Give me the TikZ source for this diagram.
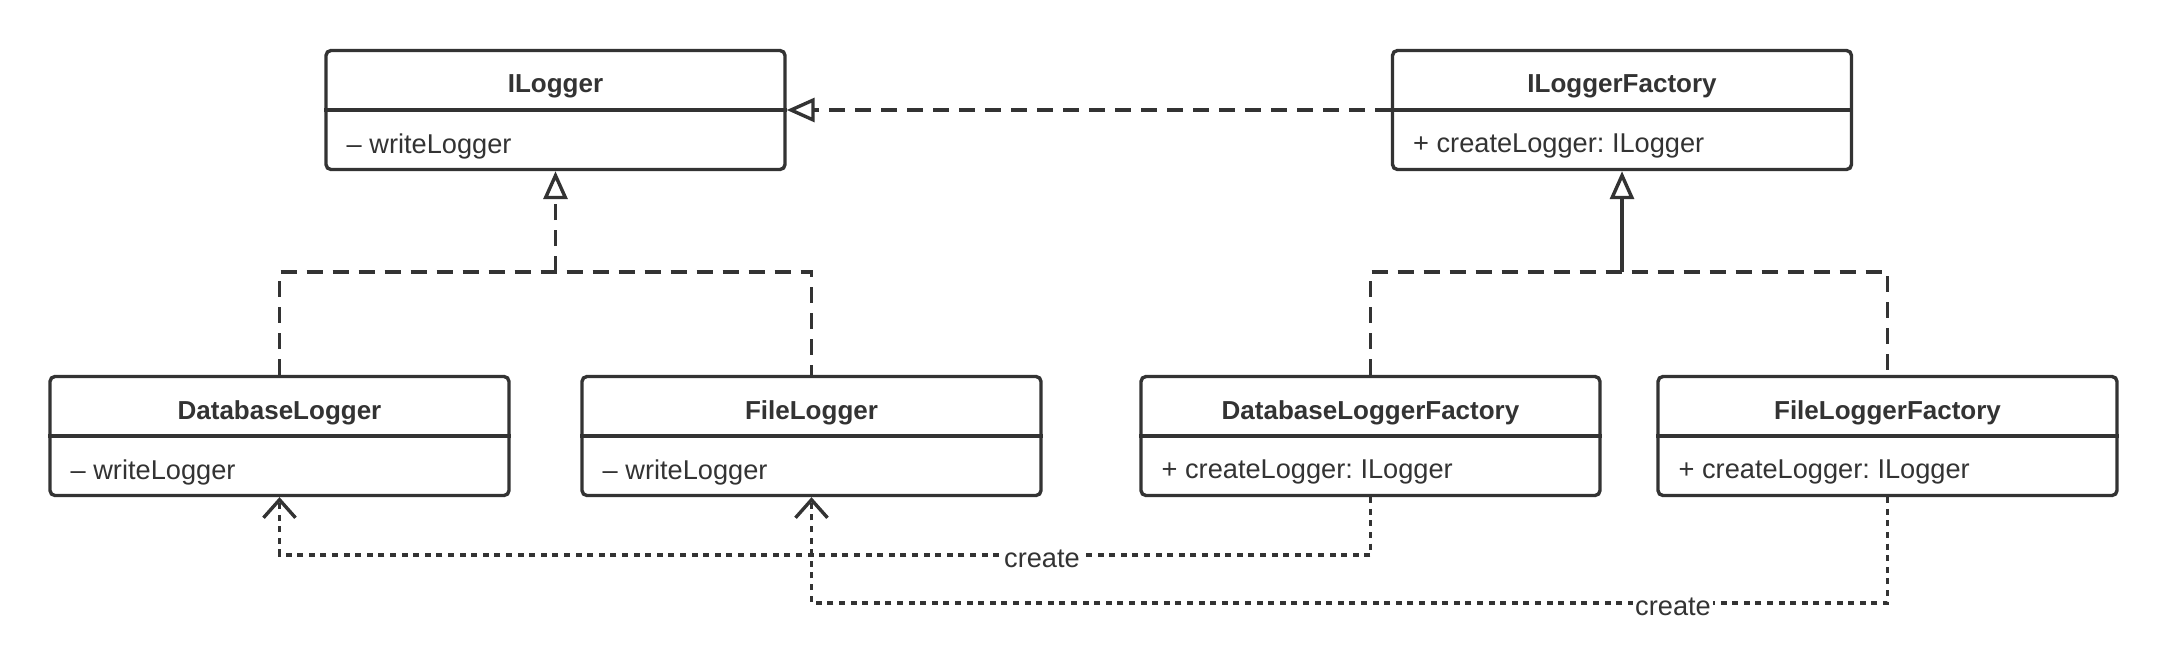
\documentclass[tikz,border=0pt]{standalone}
\usepackage{fontspec}
\setmainfont{Liberation Sans}
\usetikzlibrary{arrows.meta}
\definecolor{ink}{HTML}{333333}
\frenchspacing
\begin{document}
\begin{tikzpicture}[x=0.5pt,y=-0.5pt,
  cls/.style={draw=ink, line width=1.7pt, rounded corners=2.5pt, minimum width=229.5pt, minimum height=59.5pt, inner sep=0pt, fill=white},
  hdr/.style={text=ink, font=\bfseries\fontsize{13}{15}\selectfont, inner sep=0pt},
  bdy/.style={text=ink, font=\fontsize{13.6}{16}\selectfont, inner sep=0pt, anchor=west},
  conn/.style={draw=ink, line width=1.7pt},
  dashd/.style={conn, dash pattern=on 8pt off 5pt},
  dotd/.style={conn, dash pattern=on 3pt off 2.8pt},
  tri/.style={-{Triangle[length=14pt,width=12pt,fill=white]}},
  vee/.style={-{Straight Barb[length=9pt,width=16pt]}},
  lbl/.style={fill=white, text=ink, font=\fontsize{13.6}{16}\selectfont, inner sep=1pt}
]
\useasboundingbox (0,0) rectangle (2168,654);

% class boxes (center = divider line)
\node[cls] (ilog) at (555.5,110) {};
\node[cls] (ilf)  at (1622,110) {};
\node[cls] (dblog) at (279.5,436) {};
\node[cls] (flog)  at (811.5,436) {};
\node[cls] (dblf)  at (1370.5,436) {};
\node[cls] (flf)   at (1887.5,436) {};

\foreach \n in {ilog,ilf,dblog,flog,dblf,flf}{
  \draw[conn] (\n.west) -- (\n.east);
}

\node[hdr] (ilog-h) at ([yshift=11.8pt]ilog.center) {ILogger};
\node[bdy] (ilog-b) at ([xshift=11pt,yshift=-18.2pt]ilog.west) {– writeLogger};
\node[hdr] (ilf-h) at ([yshift=11.8pt]ilf.center) {ILoggerFactory};
\node[bdy] (ilf-b) at ([xshift=11pt,yshift=-18.2pt]ilf.west) {+ createLogger: ILogger};
\node[hdr] (dblog-h) at ([yshift=11.8pt]dblog.center) {DatabaseLogger};
\node[bdy] (dblog-b) at ([xshift=11pt,yshift=-18.2pt]dblog.west) {– writeLogger};
\node[hdr] (flog-h) at ([yshift=11.8pt]flog.center) {FileLogger};
\node[bdy] (flog-b) at ([xshift=11pt,yshift=-18.2pt]flog.west) {– writeLogger};
\node[hdr] (dblf-h) at ([yshift=11.8pt]dblf.center) {DatabaseLoggerFactory};
\node[bdy] (dblf-b) at ([xshift=11pt,yshift=-18.2pt]dblf.west) {+ createLogger: ILogger};
\node[hdr] (flf-h) at ([yshift=11.8pt]flf.center) {FileLoggerFactory};
\node[bdy] (flf-b) at ([xshift=11pt,yshift=-18.2pt]flf.west) {+ createLogger: ILogger};

\coordinate (j1) at (555.5,272);
\coordinate (j2) at (1622,272);
\coordinate (c1) at (0,555);
\coordinate (c2) at (0,603);

% realization
\draw[dashd,tri] (ilf.west) -- (ilog.east);
\draw[dashd,tri] (j1) -- (ilog.south);
\draw[dashd] (dblog.north) -- (dblog.north |- j1) -- (flog.north |- j1) -- (flog.north);
\draw[conn,tri] (j2) -- (ilf.south);
\draw[dashd] (dblf.north) -- (dblf.north |- j2) -- (flf.north |- j2) -- (flf.north);

% create dependencies
\draw[dotd,vee] (dblf.south) -- (dblf.south |- c1) -- (dblog.south |- c1) -- (dblog.south);
\draw[dotd,vee] (flf.south) -- (flf.south |- c2) -- (flog.south |- c2) -- (flog.south);
\node[lbl] (cr1) at (1042,559) {create};
\node[lbl] (cr2) at (1673,607) {create};
\end{tikzpicture}
\end{document}
